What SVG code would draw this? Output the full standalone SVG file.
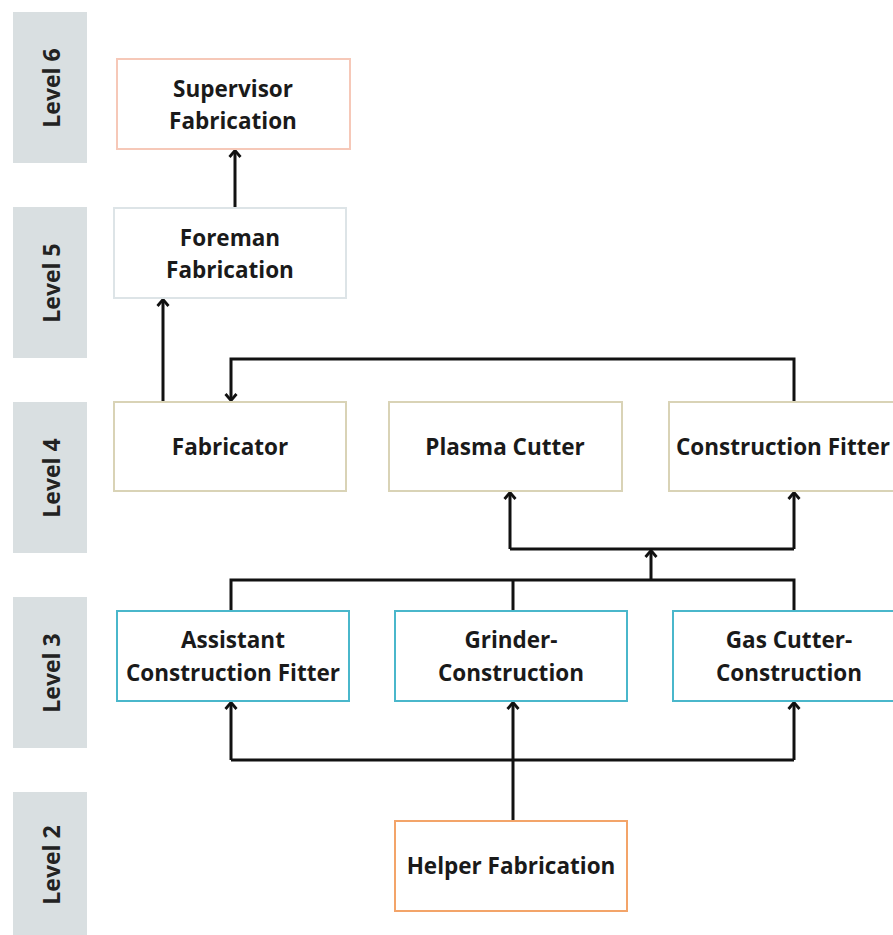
<svg xmlns="http://www.w3.org/2000/svg" width="893" height="935" viewBox="0 0 893 935">
<defs>
<marker id="arr" viewBox="0 0 14 14" refX="12" refY="7" markerWidth="14" markerHeight="14" markerUnits="userSpaceOnUse" orient="auto">
<path d="M6,1.5 L12.5,7 L6,12.5" fill="none" stroke="#111" stroke-width="2.8"/>
</marker>
</defs>
<style>
.lvl{fill:#d9dfe1}
.lt{font-family:"Open Sans","Liberation Sans",sans-serif;font-weight:700;font-size:23px;fill:#222;text-anchor:middle}
.nt{font-family:"Open Sans","Liberation Sans",sans-serif;font-weight:700;font-size:22.5px;fill:#1a1a1a;text-anchor:middle}
.box{fill:#fff;stroke-width:2}
.l6{stroke:#f6c8b8}
.l5{stroke:#dde4e7}
.l4{stroke:#d9d3b6}
.l3{stroke:#4ab7cb}
.l2{stroke:#f3a469}
.c{fill:none;stroke:#111;stroke-width:3}
</style>
<rect width="893" height="935" fill="#fff"/>
<g id="levels">
<rect class="lvl" x="13" y="12" width="74" height="151"/>
<rect class="lvl" x="13" y="207" width="74" height="151"/>
<rect class="lvl" x="13" y="402" width="74" height="151"/>
<rect class="lvl" x="13" y="597" width="74" height="151"/>
<rect class="lvl" x="13" y="792" width="74" height="143"/>
<text class="lt" transform="translate(60,88) rotate(-90)">Level 6</text>
<text class="lt" transform="translate(60,283) rotate(-90)">Level 5</text>
<text class="lt" transform="translate(60,478) rotate(-90)">Level 4</text>
<text class="lt" transform="translate(60,673) rotate(-90)">Level 3</text>
<text class="lt" transform="translate(60,865) rotate(-90)">Level 2</text>
</g>
<g id="connectors">
<path class="c" d="M235,208 V151" marker-end="url(#arr)"/>
<path class="c" d="M163,402 V300" marker-end="url(#arr)"/>
<path class="c" d="M794,402 V359 H231 V400" marker-end="url(#arr)"/>
<path class="c" d="M510,549 V493" marker-end="url(#arr)"/>
<path class="c" d="M794,549 V493" marker-end="url(#arr)"/>
<path class="c" d="M510,549 H794"/>
<path class="c" d="M651,580 V551" marker-end="url(#arr)"/>
<path class="c" d="M231,611 V580 H794 V611"/>
<path class="c" d="M513,580 V611"/>
<path class="c" d="M231,760 V703" marker-end="url(#arr)"/>
<path class="c" d="M794,760 V703" marker-end="url(#arr)"/>
<path class="c" d="M231,760 H794"/>
<path class="c" d="M513,821 V703" marker-end="url(#arr)"/>
</g>
<g id="supervisor">
<rect class="box l6" x="117" y="59" width="233" height="90"/>
<text class="nt" x="233" y="97">Supervisor</text>
<text class="nt" x="233" y="129">Fabrication</text>
</g>
<g id="foreman">
<rect class="box l5" x="114" y="208" width="232" height="90"/>
<text class="nt" x="230" y="246">Foreman</text>
<text class="nt" x="230" y="278">Fabrication</text>
</g>
<g id="fabricator">
<rect class="box l4" x="114" y="402" width="232" height="89"/>
<text class="nt" x="230" y="455">Fabricator</text>
</g>
<g id="plasma">
<rect class="box l4" x="389" y="402" width="233" height="89"/>
<text class="nt" x="505" y="455">Plasma Cutter</text>
</g>
<g id="constructionfitter">
<rect class="box l4" x="669" y="402" width="240" height="89"/>
<text class="nt" x="783" y="455">Construction Fitter</text>
</g>
<g id="assistant">
<rect class="box l3" x="117" y="611" width="232" height="90"/>
<text class="nt" x="233" y="648">Assistant</text>
<text class="nt" x="233" y="681">Construction Fitter</text>
</g>
<g id="grinder">
<rect class="box l3" x="395" y="611" width="232" height="90"/>
<text class="nt" x="511" y="648">Grinder-</text>
<text class="nt" x="511" y="681">Construction</text>
</g>
<g id="gascutter">
<rect class="box l3" x="673" y="611" width="232" height="90"/>
<text class="nt" x="789" y="648">Gas Cutter-</text>
<text class="nt" x="789" y="681">Construction</text>
</g>
<g id="helper">
<rect class="box l2" x="395" y="821" width="232" height="90"/>
<text class="nt" x="511" y="874">Helper Fabrication</text>
</g>
</svg>
